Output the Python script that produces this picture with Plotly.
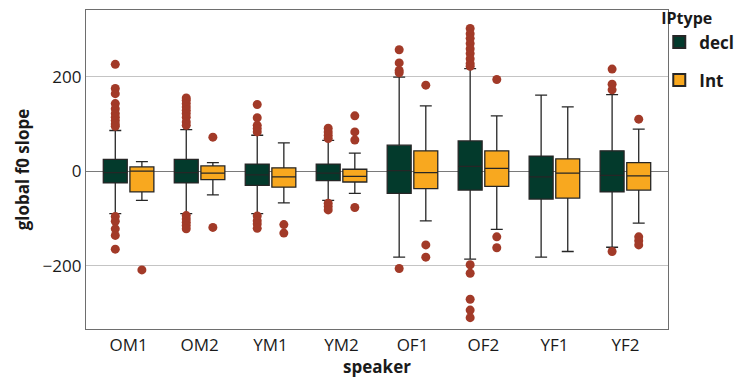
import plotly.graph_objects as go

speakers = ["OM1", "OM2", "YM1", "YM2", "OF1", "OF2", "YF1", "YF2"]

# decl statistics
decl_q1 = [-25, -25, -30, -20, -47, -40, -59, -44]
decl_med = [-3, -3, -8, -4, 1, 10, -12, -9]
decl_q3 = [25, 25, 15, 15, 55, 64, 32, 43]
decl_lo = [-90, -90, -90, -62, -182, -186, -182, -161]
decl_hi = [86, 88, 76, 65, 199, 217, 161, 162]
decl_out = [
    [226, 175, 164, 143, 132, 122, 114, 107, 100, 95, -96, -106, -122, -136, -165],
    [155, 150, 143, 136, 129, 122, 114, 104, 97, -94, -101, -108, -115, -122],
    [141, 113, 97, 90, 83, -95, -105, -112, -121],
    [91, 83, 76, 69, -68, -75, -82],
    [257, 229, 213, 208, -206],
    [302, 291, 281, 270, 259, 249, 238, 228, 222, -198, -216, -271, -294, -310],
    [],
    [216, 184, 172, -170],
]

# Int statistics
int_q1 = [-44, -18, -34, -23, -37, -32, -57, -40]
int_med = [0, -4, -12, -11, -3, 6, -4, -10]
int_q3 = [9, 11, 7, 4, 43, 43, 26, 18]
int_lo = [-62, -50, -67, -47, -105, -123, -170, -110]
int_hi = [20, 18, 60, 38, 138, 117, 136, 89]
int_out = [
    [-209],
    [72, -119],
    [-113, -131],
    [117, 83, 66, -77],
    [182, -156, -182],
    [194, -139, -162],
    [],
    [110, -139, -147, -156],
]

groups = ["decl", "Int"]
fills = {"decl": "#033A2C", "Int": "#F8A81F"}
offsets = {"decl": -0.1875, "Int": 0.1875}
stats = {
    "decl": (decl_q1, decl_med, decl_q3, decl_lo, decl_hi, decl_out),
    "Int": (int_q1, int_med, int_q3, int_lo, int_hi, int_out),
}

FONT = "Open Sans, Noto Sans, DejaVu Sans, sans-serif"
fig = go.Figure()

for g in groups:
    q1, med, q3, lo, hi, outs = stats[g]
    xs = [i + offsets[g] for i in range(len(speakers))]
    fig.add_trace(go.Box(
        name="<b>" + g + "</b>", x=xs, q1=q1, median=med, q3=q3,
        lowerfence=lo, upperfence=hi, legendgroup=g,
        width=0.3375, fillcolor=fills[g],
        line=dict(color="#262626", width=1.3),
        boxpoints=False, showlegend=True, hoverinfo="skip",
    ))

for g in groups:
    outs = stats[g][5]
    ox, oy = [], []
    for i, vals in enumerate(outs):
        for v in vals:
            ox.append(i + offsets[g])
            oy.append(v)
    fig.add_trace(go.Scatter(
        x=ox, y=oy, mode="markers", showlegend=False, legendgroup=g,
        marker=dict(color="#A23A28", size=9, line=dict(width=0)),
        hoverinfo="skip",
    ))

fig.update_layout(
    width=739, height=380,
    margin=dict(l=86, r=71, t=10, b=51, autoexpand=False),
    paper_bgcolor="white", plot_bgcolor="white",
    font=dict(family=FONT, color="#1a1a1a", size=16),
    boxmode="overlay",
    legend=dict(
        title=dict(text="<b>IPtype</b>", font=dict(size=16)),
        x=0.985, xanchor="left", y=1.02, yanchor="top",
        font=dict(size=17), itemsizing="constant",
        tracegroupgap=13, bgcolor="rgba(0,0,0,0)",
        itemwidth=30,
    ),
)

fig.update_xaxes(
    range=[-0.6, 7.6], tickmode="array",
    tickvals=list(range(len(speakers))), ticktext=speakers,
    showgrid=False, zeroline=False, showline=True, mirror=True,
    linecolor="#6e6e6e", linewidth=1.2, ticks="",
    tickfont=dict(size=17, color="#1a1a1a"),
    title=dict(text="<b>speaker</b>", font=dict(size=17), standoff=4),
)
fig.update_yaxes(
    range=[-334, 341], tickvals=[-200, 0, 200],
    ticktext=["\u2212200", "0", "200"],
    showgrid=True, gridcolor="#c4c4c4", gridwidth=1.2,
    zeroline=True, zerolinecolor="#7a7a7a", zerolinewidth=1.3,
    showline=True, mirror=True, linecolor="#6e6e6e", linewidth=1.2,
    ticks="", tickfont=dict(size=17, color="#1a1a1a"),
    title=dict(text="<b>global f0 slope</b>", font=dict(size=17), standoff=8),
)

fig.write_html("out.html", post_script="document.body.style.margin='0';",
               config={"displayModeBar": False})
